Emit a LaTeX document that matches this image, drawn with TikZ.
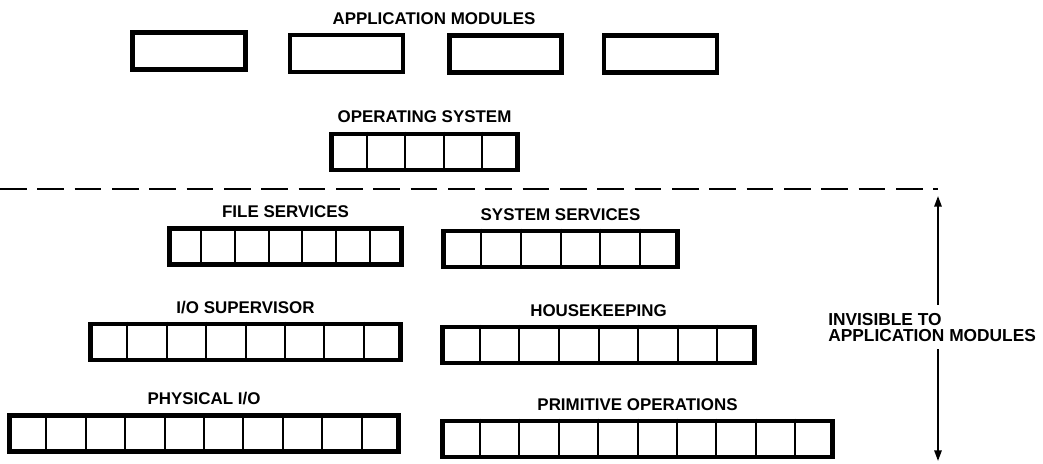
\documentclass[tikz,border=0pt]{standalone}
\usepackage{fontspec}
\setmainfont{Liberation Sans}
\usepackage{tikz}
\usetikzlibrary{arrows.meta, positioning, calc}

\begin{document}
\begin{tikzpicture}[
  x=0.75pt, y=-0.75pt,
  font=\bfseries\fontsize{12.7}{11.5}\selectfont,
  appbox/.style={rectangle, draw, line width=3.4pt, minimum height=28pt, inner sep=0pt},
  layer/.style={rectangle, draw, line width=3.4pt, minimum height=27pt, inner sep=0pt},
  cellrule/.style={line width=1.5pt},
  lbl/.style={inner sep=0pt, text depth=0pt},
  cut/.style={dash pattern=on 20pt off 8pt, line width=1.2pt},
  span/.style={{Triangle[length=8pt, width=5.5pt]}-, line width=1.4pt}
]
  \useasboundingbox (0,0) rectangle (1043,464);

  % ── Application modules ─────────────────────────────────────────────────────
  \node[lbl] (appl) at (434,19) {APPLICATION MODULES};
  \node[appbox, minimum width=85pt] (am1) at (189,51) {};
  \node[appbox, minimum width=85pt] (am2) at (346.5,53.5) {};
  \node[appbox, minimum width=84pt] (am3) at (505.5,54) {};
  \node[appbox, minimum width=85pt] (am4) at (660.5,54) {};

  % ── Operating system ────────────────────────────────────────────────────────
  \node[layer, minimum width=139.5pt] (os) at (424.5,152) {};
  \node[lbl, above=7pt of os] (osl) {OPERATING SYSTEM};

  % ── Row 1: services ─────────────────────────────────────────────────────────
  \node[layer, minimum width=174pt] (fs) at (285.5,246.5) {};
  \node[lbl, above=6pt of fs] (fsl) {FILE SERVICES};
  \node[layer, minimum width=175.7pt] (ss) at (560.5,249) {};
  \node[lbl, above=6pt of ss] (ssl) {SYSTEM SERVICES};

  % ── Row 2: supervisor ───────────────────────────────────────────────────────
  \node[layer, minimum width=232.7pt] (io) at (245.5,342) {};
  \node[lbl, above=6pt of io] (iol) {I/O SUPERVISOR};
  \node[layer, minimum width=234pt] (hk) at (598.5,345) {};
  \node[lbl, above=6pt of hk] (hkl) {HOUSEKEEPING};

  % ── Row 3: primitives ───────────────────────────────────────────────────────
  \node[layer, minimum width=292pt] (pio) at (204,433.5) {};
  \node[lbl, above=6pt of pio] (piol) {PHYSICAL I/O};
  \node[layer, minimum width=292.7pt] (po) at (637.5,439) {};
  \node[lbl, above=6pt of po] (pol) {PRIMITIVE OPERATIONS};

  % ── Cells ───────────────────────────────────────────────────────────────────
  \foreach \n/\k in {os/5, fs/7, ss/6, io/8, hk/8, pio/10, po/10} {
    \pgfmathtruncatemacro\last{\k-1}
    \foreach \i in {1,...,\last}
      \draw[cellrule] ($(\n.north west)!\i/\k!(\n.north east)$)
                   -- ($(\n.south west)!\i/\k!(\n.south east)$);
  }

  % ── Visibility boundary ─────────────────────────────────────────────────────
  \coordinate (cutw) at (0,189);
  \coordinate (limtop) at (938,196);
  \coordinate (limbot) at (938,461);
  \draw[cut] (cutw) -- (cutw -| limtop);
  \node[lbl, align=left, anchor=west, font=\bfseries\fontsize{13}{12}\selectfont] (inv) at (828,327)
    {INVISIBLE TO\\APPLICATION MODULES};
  \draw[span] (limtop) -- ([yshift=6pt]inv.north -| limtop);
  \draw[span] (limbot) -- ([yshift=-6pt]inv.south -| limbot);
\end{tikzpicture}
\end{document}
